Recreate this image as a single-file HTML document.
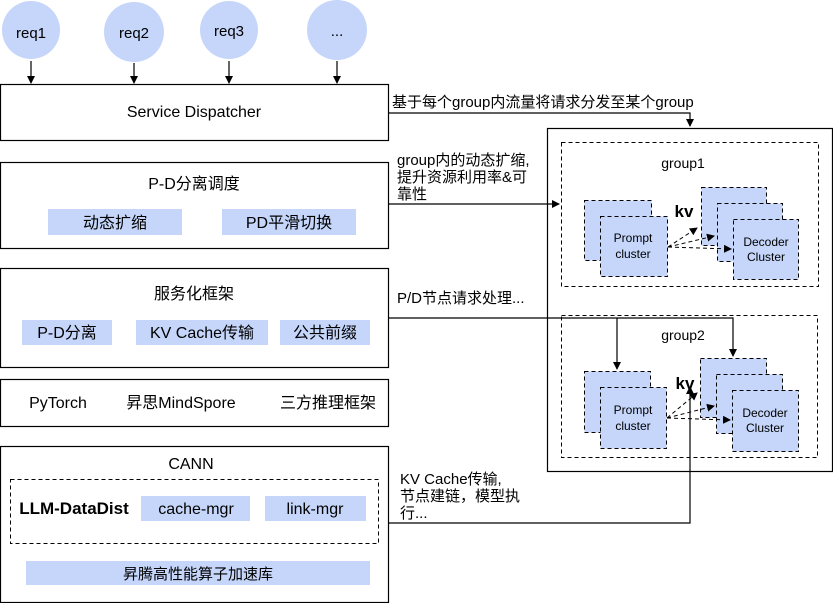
<!DOCTYPE html>
<html><head><meta charset="utf-8"><style>
html,body{margin:0;padding:0;background:#fff}
svg text{font-family:"Liberation Sans","Noto Sans CJK SC",sans-serif;fill:#000}
</style></head><body>
<svg width="833" height="603" viewBox="0 0 833 603" xmlns="http://www.w3.org/2000/svg">
<defs>
<marker id="a" markerWidth="8" markerHeight="8" refX="7" refY="4" orient="auto" markerUnits="userSpaceOnUse"><path d="M0,0 L8,4 L0,8 z" fill="#000"/></marker>
</defs>
<g fill="#c5d6fa">
<circle cx="31" cy="30" r="29"/><circle cx="134" cy="32" r="30"/><circle cx="229" cy="30" r="29"/><circle cx="337" cy="30" r="30"/>
</g>
<g font-size="15" text-anchor="middle">
<text x="31" y="38">req1</text><text x="134" y="38">req2</text><text x="229" y="36">req3</text><text x="337" y="36">...</text>
</g>
<g stroke="#000" stroke-width="1.2" marker-end="url(#a)">
<line x1="31" y1="61" x2="31" y2="83"/><line x1="134" y1="63" x2="134" y2="83"/><line x1="229" y1="61" x2="229" y2="83"/><line x1="337" y1="61" x2="337" y2="83"/>
</g>
<g fill="none" stroke="#000" stroke-width="1.2">
<rect x="0.5" y="84.5" width="388" height="56"/>
<rect x="0.5" y="162.5" width="388" height="86"/>
<rect x="0.5" y="268.5" width="388" height="99"/>
<rect x="0.5" y="379.5" width="388" height="47"/>
<rect x="0.5" y="446.5" width="388" height="156"/>
<rect x="547.5" y="128.5" width="285" height="343"/>
</g>
<g fill="none" stroke="#000" stroke-width="1" stroke-dasharray="4,3">
<rect x="10.5" y="479.5" width="368" height="64"/>
<rect x="561.5" y="142.5" width="257" height="144"/>
<rect x="561.5" y="315.5" width="256" height="142"/>
</g>
<g fill="#c5d6fa">
<rect x="48" y="209" width="134" height="26"/><rect x="222" y="209" width="134" height="26"/>
<rect x="22" y="320" width="90" height="25"/><rect x="136" y="320" width="132" height="25"/><rect x="280" y="320" width="90" height="25"/>
<rect x="141" y="496" width="109" height="25"/><rect x="265" y="496" width="101" height="25"/>
<rect x="26" y="561" width="344" height="24"/>
</g>
<g fill="#c5d6fa" stroke="#000" stroke-width="1" stroke-dasharray="4,3">
<rect x="584.5" y="200.5" width="67" height="60"/><rect x="600.5" y="216.5" width="67" height="60"/>
<rect x="701.5" y="187.5" width="65" height="58"/><rect x="717.5" y="203.5" width="65" height="58"/><rect x="733.5" y="219.5" width="65" height="60"/>
<rect x="584.5" y="371.5" width="66" height="61"/><rect x="600.5" y="387.5" width="66" height="61"/>
<rect x="700.5" y="358.5" width="66" height="59"/><rect x="716.5" y="374.5" width="66" height="59"/><rect x="732.5" y="390.5" width="66" height="61"/>
</g>
<g stroke="#000" stroke-width="1" stroke-dasharray="4,3" marker-end="url(#a)">
<line x1="668" y1="247" x2="697" y2="228"/><line x1="668" y1="247" x2="714" y2="236"/><line x1="668" y1="247" x2="731" y2="249"/>
<line x1="667" y1="418" x2="697" y2="393"/><line x1="667" y1="418" x2="714" y2="406"/><line x1="667" y1="418" x2="730" y2="420"/>
</g>
<g stroke="#000" stroke-width="1.2" fill="none">
<polyline points="388,113 690,113 690,126" marker-end="url(#a)"/>
<line x1="388" y1="204" x2="559" y2="204" marker-end="url(#a)"/>
<polyline points="388,318 733,318 733,356" marker-end="url(#a)"/>
<line x1="617" y1="318" x2="617" y2="369" marker-end="url(#a)"/>
<polyline points="388,523 690,523 690,387" marker-end="url(#a)"/>
</g>
<g font-size="16" text-anchor="middle">
<text x="194" y="117">Service Dispatcher</text>
<text x="194" y="189">P-D分离调度</text>
<text x="115" y="228">动态扩缩</text><text x="289" y="228">PD平滑切换</text>
<text x="194" y="299">服务化框架</text>
<text x="67" y="338">P-D分离</text><text x="202" y="338">KV Cache传输</text><text x="325" y="338">公共前缀</text>
<text x="58" y="408">PyTorch</text><text x="181" y="408">昇思MindSpore</text><text x="328" y="408">三方推理框架</text>
<text x="191" y="469">CANN</text>
<text x="74" y="514" font-weight="bold" font-size="17">LLM-DataDist</text>
<text x="196" y="514">cache-mgr</text><text x="315" y="514">link-mgr</text>
<text x="198" y="579" font-size="15">昇腾高性能算子加速库</text>
</g>
<g font-size="15">
<text x="392" y="107">基于每个group内流量将请求分发至某个group</text>
<text x="397" y="165">group内的动态扩缩,</text>
<text x="397" y="182">提升资源利用率&amp;可</text>
<text x="397" y="199">靠性</text>
<text x="397" y="303">P/D节点请求处理...</text>
<text x="400" y="484">KV Cache传输,</text>
<text x="400" y="501">节点建链，模型执</text>
<text x="400" y="518">行...</text>
</g>
<g font-size="14" text-anchor="middle">
<text x="683" y="168">group1</text><text x="683" y="340">group2</text>
</g>
<g font-size="12" text-anchor="middle">
<text x="633" y="242">Prompt</text><text x="633" y="258">cluster</text>
<text x="766" y="246">Decoder</text><text x="766" y="261">Cluster</text>
<text x="633" y="414">Prompt</text><text x="633" y="430">cluster</text>
<text x="765" y="417">Decoder</text><text x="765" y="432">Cluster</text>
</g>
<g font-size="17" font-weight="bold" text-anchor="middle">
<text x="684" y="217">kv</text><text x="685" y="389">kv</text>
</g>
</svg>
</body></html>
